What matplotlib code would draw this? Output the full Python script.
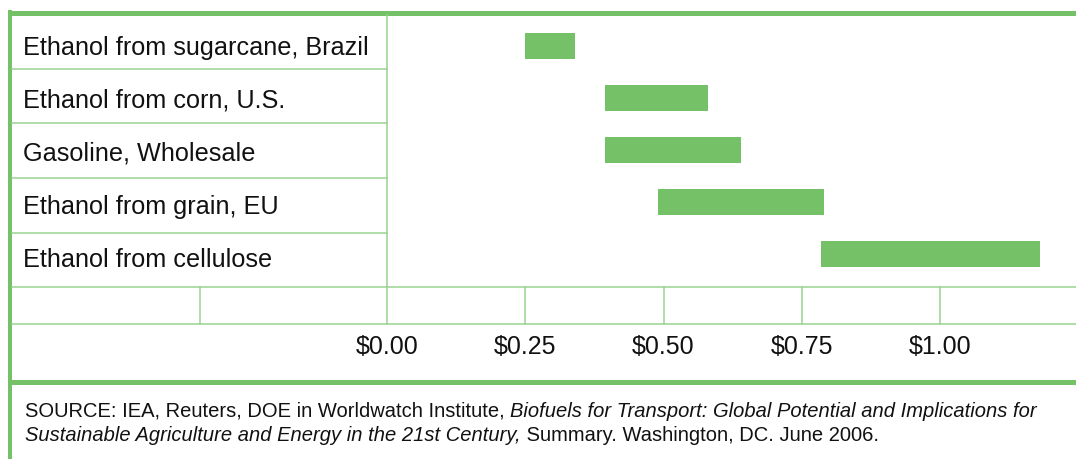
import matplotlib
matplotlib.use("Agg")
import matplotlib.pyplot as plt
from matplotlib.transforms import blended_transform_factory

# ---- data ----
categories = ["Ethanol from sugarcane, Brazil", "Ethanol from corn, U.S.",
              "Gasoline, Wholesale", "Ethanol from grain, EU", "Ethanol from cellulose"]
low = [0.25, 0.395, 0.395, 0.49, 0.785]
high = [0.34, 0.58, 0.64, 0.79, 1.18]
tick_values = [0.00, 0.25, 0.50, 0.75, 1.00]
tick_labels = ["$0.00", "$0.25", "$0.50", "$0.75", "$1.00"]
source_parts = [
    [("SOURCE: IEA, Reuters, DOE in Worldwatch Institute, ", "normal"),
     ("Biofuels for Transport: Global Potential and Implications for", "italic")],
    [("Sustainable Agriculture and Energy in the 21st Century,", "italic"),
     (" Summary. Washington, DC. June 2006.", "normal")],
]

plt.rcParams["font.family"] = ["Liberation Sans", "DejaVu Sans"]

W, H = 1076, 460
GREEN = "#74C167"
THIN = "#98D28E"
TXT = "#111111"
fig = plt.figure(figsize=(W / 100, H / 100), dpi=100)
fig.patch.set_facecolor("white")

# overlay in pixel coordinates for the table frame
ov = fig.add_axes([0, 0, 1, 1])
ov.set_xlim(0, W)
ov.set_ylim(H, 0)
ov.axis("off")

px = 72 / 100  # points per pixel
# thick frame lines
ov.plot([8, W], [13.5, 13.5], color=GREEN, lw=5 * px, solid_capstyle="butt")
ov.plot([10, 10], [11, H], color=GREEN, lw=4 * px, solid_capstyle="butt")
ov.plot([8, W], [382.5, 382.5], color=GREEN, lw=5 * px, solid_capstyle="butt")
# thin table lines
for y in [69.5, 123.5, 178.5, 234]:
    ov.plot([12, 387], [y, y], color=THIN, lw=1.5 * px)
for y in [287.5, 325]:
    ov.plot([12, W], [y, y], color=THIN, lw=1.5 * px)
ov.plot([387, 387], [16, 325], color=THIN, lw=1.5 * px)
ov.plot([200, 200], [287.5, 325], color=THIN, lw=1.5 * px)

# row labels
for i, c in enumerate(categories):
    ov.text(23, 55 + 52.9 * i, c, fontsize=18.2, va="baseline", ha="left", color=TXT)

# bar axes
left_px, top_px, bot_px = 387, 16, 287.5
ax = fig.add_axes([left_px / W, (H - bot_px) / H, (W - left_px) / W, (bot_px - top_px) / H])
ax.set_facecolor("none")
scale = 553.0
ax.set_xlim(0, (W - left_px) / scale)
ax.set_ylim((bot_px - 47) / 52, (top_px - 47) / 52)
ypos = list(range(len(categories)))
ax.barh(ypos, [h - l for l, h in zip(low, high)], left=low, height=0.5, color=GREEN, linewidth=0)
for s in ax.spines.values():
    s.set_visible(False)
ax.set_yticks([])
ax.set_xticks(tick_values)
ax.set_xticklabels(tick_labels, fontsize=18, color=TXT)
ax.tick_params(axis="x", length=0, pad=34)

# tick-row grid lines at tick positions
bt = blended_transform_factory(ax.transData, ov.transData)
for v in tick_values[1:]:
    ov.plot([v, v], [287.5, 325], color=THIN, lw=1.5 * px, transform=bt)

# source text with mixed styles
fig.canvas.draw()
renderer = fig.canvas.get_renderer()
baselines = [416.7, 440.7]
for line, yb in zip(source_parts, baselines):
    x = 25
    for txt, style in line:
        t = ov.text(x, yb, txt, fontsize=14.5, style=style, va="baseline", ha="left", color=TXT)
        bb = t.get_window_extent(renderer=renderer)
        x += bb.width

fig.savefig("out.png", dpi=100)
